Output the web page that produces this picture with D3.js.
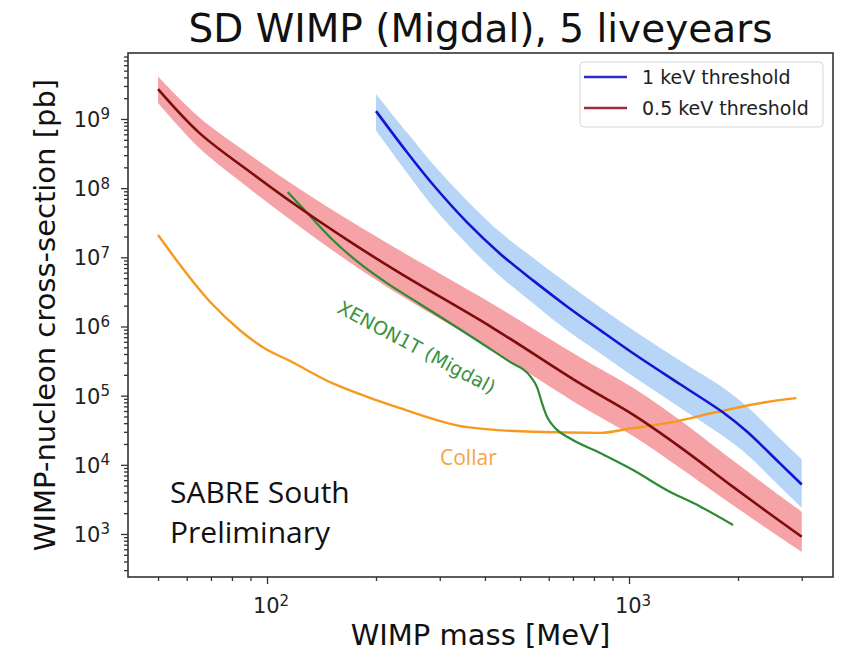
<!DOCTYPE html>
<html>
<head>
<meta charset="utf-8">
<script src="https://cdnjs.cloudflare.com/ajax/libs/d3/7.8.5/d3.min.js"></script>
<style>
  body { margin: 0; background: #fff; }
  text { font-family: "DejaVu Sans", sans-serif; }
</style>
</head>
<body>
<div id="limit_plot"></div>
<script>
// 0.5 keV threshold: median limit and band (MeV, pb)
var redMass  = [50, 65, 90, 123, 169, 233, 421, 732, 1026, 1384, 1938, 2404, 3000];
var redSigma = [2.7e9, 6.3e8, 1.7e8, 5.2e7, 1.7e7, 5.9e6, 9.5e5, 1.5e5, 5.3e4, 1.8e4, 4.8e3, 2.1e3, 9.1e2];
var redHigh  = [4.1e9, 1.05e9, 3.0e8, 9.7e7, 3.4e7, 1.25e7, 2.1e6, 3.6e5, 1.3e5, 4.4e4, 1.15e4, 4.9e3, 2.1e3];
var redLow   = [1.7e9, 3.8e8, 9.6e7, 2.8e7, 8.5e6, 2.85e6, 4.5e5, 7.2e4, 2.6e4, 9.0e3, 2.6e3, 1.2e3, 5.5e2];

// 1 keV threshold
var blueMass  = [200, 244, 288, 357, 441, 544, 674, 832, 1026, 1384, 1820, 2120, 2612, 3000];
var blueSigma = [1.3e9, 3.27e8, 1.11e8, 3.2e7, 1.12e7, 4.6e6, 1.95e6, 8.85e5, 4.1e5, 1.46e5, 5.7e4, 3.0e4, 1.05e4, 5.2e3];
var blueHigh  = [2.3e9, 6.3e8, 2.2e8, 6.6e7, 2.3e7, 9.8e6, 4.2e6, 1.9e6, 8.9e5, 3.2e5, 1.3e5, 6.9e4, 2.4e4, 1.2e4];
var blueLow   = [6.8e8, 1.64e8, 5.3e7, 1.54e7, 5.3e6, 2.15e6, 8.8e5, 4.1e5, 1.9e5, 6.7e4, 2.6e4, 1.4e4, 4.8e3, 2.4e3];

// XENON1T (Migdal)
var xenonMass  = [114, 131.5, 152, 184, 214, 265, 327, 405, 469, 533, 557, 575, 594, 625, 688, 832, 1026, 1273, 1571, 1938];
var xenonSigma = [8.8e7, 3.96e7, 1.78e7, 7.5e6, 4.26e6, 2.1e6, 1.05e6, 5.1e5, 3.07e5, 1.92e5, 1.33e5, 7.8e4, 4.9e4, 3.4e4, 2.4e4, 1.48e4, 8.4e3, 4.3e3, 2.5e3, 1.35e3];

// Collar
var collarMass  = [50, 70, 84, 100, 114, 152, 189, 233, 357, 544, 832, 1026, 1273, 1750, 2404, 2900];
var collarSigma = [2.1e7, 2.2e6, 8.9e5, 4.6e5, 3.3e5, 1.5e5, 9.6e4, 6.6e4, 3.5e4, 3.0e4, 2.9e4, 3.4e4, 4.0e4, 5.8e4, 8.1e4, 9.2e4];

var xMajor = [1e2, 1e3];
var xMinor = [50, 60, 70, 80, 90, 200, 300, 400, 500, 600, 700, 800, 900, 2000, 3000];
var yMajor = [1e3, 1e4, 1e5, 1e6, 1e7, 1e8, 1e9];
var legendLabels = ["1 keV threshold", "0.5 keV threshold"];

// set the dimensions and margins of the graph
var margin = {top: 53, right: 11, bottom: 81, left: 128},
    width = 844 - margin.left - margin.right,
    height = 658 - margin.top - margin.bottom;

var x = d3.scaleLog().domain([41.3, 3660]).range([0, width]);
var y = d3.scaleLog().domain([Math.pow(10, 2.378), Math.pow(10, 9.954)]).range([height, 0]);

// minor y ticks: 2..9 in every decade inside the domain
var yMinor = [];
for (var e = 2; e <= 9; e++) {
  for (var k = 2; k <= 9; k++) {
    var v = k * Math.pow(10, e);
    if (v >= y.domain()[0] && v <= y.domain()[1]) yMinor.push(v);
  }
}

var svg = d3.select("#limit_plot").append("svg")
    .attr("width", 844)
    .attr("height", 658);

var g = svg.append("g")
    .attr("transform", "translate(" + margin.left + "," + margin.top + ")");

function pts(ms, ss) { return ms.map(function(m, i) { return [m, ss[i]]; }); }
function bandPts(ms, lo, hi) { return ms.map(function(m, i) { return [m, lo[i], hi[i]]; }); }

var smooth = d3.curveCatmullRom.alpha(0.5);

var line = d3.line()
    .x(function(d) { return x(d[0]); })
    .y(function(d) { return y(d[1]); })
    .curve(smooth);

// kinked curves keep their corners
var lineKinked = d3.line()
    .x(function(d) { return x(d[0]); })
    .y(function(d) { return y(d[1]); })
    .curve(d3.curveMonotoneX);

var area = d3.area()
    .x(function(d) { return x(d[0]); })
    .y0(function(d) { return y(d[1]); })
    .y1(function(d) { return y(d[2]); })
    .curve(smooth);

var plot = g.append("g");

// bands
plot.append("path").datum(bandPts(redMass, redLow, redHigh))
    .attr("d", area).attr("fill", "#f5a3a6");
plot.append("path").datum(bandPts(blueMass, blueLow, blueHigh))
    .attr("d", area).attr("fill", "#b7d5f6");

// other experiments
plot.append("path").datum(pts(collarMass, collarSigma))
    .attr("d", lineKinked).attr("fill", "none")
    .attr("stroke", "#f59a1c").attr("stroke-width", 2.4);
plot.append("path").datum(pts(xenonMass, xenonSigma))
    .attr("d", lineKinked).attr("fill", "none")
    .attr("stroke", "#2e8a34").attr("stroke-width", 2.2);

// median limits
plot.append("path").datum(pts(redMass, redSigma))
    .attr("d", line).attr("fill", "none")
    .attr("stroke", "#7d0c0c").attr("stroke-width", 2.6);
plot.append("path").datum(pts(blueMass, blueSigma))
    .attr("d", line).attr("fill", "none")
    .attr("stroke", "#1414d2").attr("stroke-width", 2.6);

// curve labels
g.append("text")
    .attr("transform", "translate(" + (336 - margin.left) + "," + (312 - margin.top) + ") rotate(28)")
    .attr("fill", "#3a9440")
    .style("font-size", "19px")
    .text("XENON1T (Migdal)");

g.append("text")
    .attr("x", 440 - margin.left)
    .attr("y", 465 - margin.top)
    .attr("fill", "#f4a446")
    .style("font-family", "'Open Sans', sans-serif")
    .style("font-size", "21px")
    .text("Collar");

g.append("text")
    .attr("x", 170 - margin.left)
    .attr("y", 503 - margin.top)
    .attr("fill", "#111")
    .style("font-family", "'Open Sans', sans-serif")
    .style("font-size", "30px")
    .text("SABRE South");
g.append("text")
    .attr("x", 170 - margin.left)
    .attr("y", 543 - margin.top)
    .attr("fill", "#111")
    .style("font-family", "'Open Sans', sans-serif")
    .style("font-size", "30px")
    .text("Preliminary");

// axes
function styleAxis(sel) {
  sel.select(".domain").remove();
  sel.selectAll(".tick line").attr("stroke", "#333").attr("stroke-width", 1.3);
}

g.append("g")
    .attr("transform", "translate(0," + height + ")")
    .call(d3.axisBottom(x).tickValues(xMinor).tickSize(4).tickFormat(""))
    .call(styleAxis);
g.append("g")
    .attr("transform", "translate(0," + height + ")")
    .call(d3.axisBottom(x).tickValues(xMajor).tickSize(7).tickFormat(""))
    .call(styleAxis);
g.append("g")
    .call(d3.axisLeft(y).tickValues(yMinor).tickSize(4).tickFormat(""))
    .call(styleAxis);
g.append("g")
    .call(d3.axisLeft(y).tickValues(yMajor).tickSize(7).tickFormat(""))
    .call(styleAxis);

function powerLabel(t, d) {
  t.append("tspan").text("10");
  t.append("tspan").attr("dy", "-0.5em").style("font-size", "15px")
    .text(Math.round(Math.log10(d)));
}

g.selectAll(".xlab").data(xMajor).enter().append("text")
    .attr("class", "xlab")
    .attr("x", function(d) { return x(d) + 4; })
    .attr("y", height + 36)
    .attr("text-anchor", "middle")
    .attr("fill", "#222")
    .style("font-size", "21px")
    .each(function(d) { powerLabel(d3.select(this), d); });

g.selectAll(".ylab").data(yMajor).enter().append("text")
    .attr("class", "ylab")
    .attr("x", -18)
    .attr("y", function(d) { return y(d) + 8; })
    .attr("text-anchor", "end")
    .attr("fill", "#222")
    .style("font-size", "21px")
    .each(function(d) { powerLabel(d3.select(this), d); });

// frame
g.append("rect")
    .attr("width", width).attr("height", height)
    .attr("fill", "none").attr("stroke", "#333").attr("stroke-width", 1.6);

// axis titles and title
svg.append("text")
    .attr("x", margin.left + width / 2)
    .attr("y", 645)
    .attr("text-anchor", "middle")
    .attr("fill", "#111")
    .style("font-size", "29px")
    .text("WIMP mass [MeV]");

svg.append("text")
    .attr("transform", "translate(55," + (margin.top + height / 2) + ") rotate(-90)")
    .attr("text-anchor", "middle")
    .attr("fill", "#111")
    .style("font-size", "29px")
    .text("WIMP-nucleon cross-section [pb]");

svg.append("text")
    .attr("x", margin.left + width / 2)
    .attr("y", 42)
    .attr("text-anchor", "middle")
    .attr("fill", "#111")
    .style("font-size", "39px")
    .text("SD WIMP (Migdal), 5 liveyears");

// legend
var legend = svg.append("g").attr("transform", "translate(580,62)");
legend.append("rect")
    .attr("width", 243).attr("height", 65).attr("rx", 4)
    .attr("fill", "#fff").attr("fill-opacity", 0.85)
    .attr("stroke", "#d6d6d6");
var legendColors = ["#2a2ad0", "#a02a3a"];
legendLabels.forEach(function(lab, i) {
  var ly = 15 + i * 31;
  legend.append("line")
      .attr("x1", 4).attr("x2", 47).attr("y1", ly).attr("y2", ly)
      .attr("stroke", legendColors[i]).attr("stroke-width", 2.6);
  legend.append("text")
      .attr("x", 62).attr("y", ly + 7)
      .attr("fill", "#222")
      .style("font-size", "19px")
      .text(lab);
});
</script>
</body>
</html>
